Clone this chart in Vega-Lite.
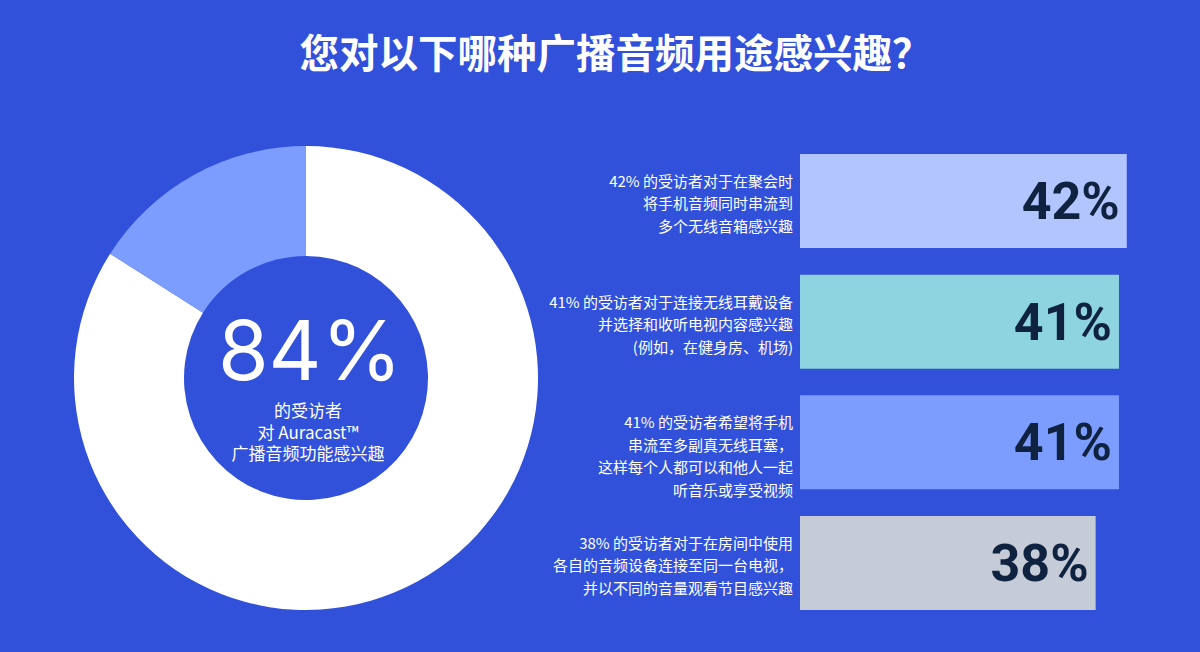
{
  "$schema": "https://vega.github.io/schema/vega-lite/v6.json",
  "background": "#3151DB",
  "padding": {"left": 74, "top": 35, "right": 11, "bottom": 42},
  "title": {
    "text": "您对以下哪种广播音频用途感兴趣？",
    "font": "Noto Sans CJK SC",
    "fontSize": 39.5,
    "fontWeight": "bold",
    "color": "white",
    "anchor": "middle",
    "offset": 70,
    "dx": -16
  },
  "spacing": 262,
  "bounds": "flush",
  "resolve": {"scale": {"color": "independent"}},
  "hconcat": [
    {
      "width": 464,
      "height": 464,
      "data": {
        "values": [
          {"group": "感兴趣", "share": 0.84, "rank": 1},
          {"group": "其他", "share": 0.16, "rank": 2}
        ]
      },
      "layer": [
        {
          "mark": {"type": "arc", "innerRadius": 122, "outerRadius": 232},
          "encoding": {
            "theta": {"field": "share", "type": "quantitative", "stack": true},
            "order": {"field": "rank", "type": "quantitative"},
            "color": {
              "field": "group",
              "type": "nominal",
              "scale": {"domain": ["感兴趣", "其他"], "range": ["#FFFFFF", "#7C9DFE"]},
              "legend": null
            }
          }
        },
        {
          "transform": [{"filter": "datum.rank == 1"}],
          "mark": {
            "type": "text",
            "font": "Inter",
            "fontSize": 82,
            "fontWeight": 400,
            "color": "white",
            "baseline": "middle",
            "dx": 4,
            "dy": -23
          },
          "encoding": {"text": {"field": "share", "type": "quantitative", "format": ".0%"}}
        },
        {
          "data": {"values": [{"caption": "的受访者\n对 Auracast™\n广播音频功能感兴趣"}]},
          "mark": {
            "type": "text",
            "font": "Noto Sans CJK SC",
            "fontSize": 17,
            "lineHeight": 21.5,
            "lineBreak": "\n",
            "color": "white",
            "baseline": "top",
            "dy": 26,
            "dx": 2
          },
          "encoding": {"text": {"field": "caption", "type": "nominal"}}
        }
      ]
    },
    {
      "width": 389,
      "height": 464,
      "data": {
        "values": [
          {"item": "a", "share": 0.42, "desc": "42% 的受访者对于在聚会时\n将手机音频同时串流到\n多个无线音箱感兴趣"},
          {"item": "b", "share": 0.41, "desc": "41% 的受访者对于连接无线耳戴设备\n并选择和收听电视内容感兴趣\n(例如，在健身房、机场)"},
          {"item": "c", "share": 0.41, "desc": "41% 的受访者希望将手机\n串流至多副真无线耳塞，\n这样每个人都可以和他人一起\n听音乐或享受视频"},
          {"item": "d", "share": 0.38, "desc": "38% 的受访者对于在房间中使用\n各自的音频设备连接至同一台电视，\n并以不同的音量观看节目感兴趣"}
        ]
      },
      "encoding": {
        "y": {
          "field": "item",
          "type": "nominal",
          "sort": null,
          "axis": null,
          "scale": {"paddingInner": 0.221, "paddingOuter": 0.033, "align": 1}
        }
      },
      "layer": [
        {
          "mark": {"type": "bar"},
          "encoding": {
            "x": {"field": "share", "type": "quantitative", "scale": {"domain": [0, 0.5]}, "axis": null},
            "color": {
              "field": "item",
              "type": "nominal",
              "scale": {"domain": ["a", "b", "c", "d"], "range": ["#B3C5FF", "#8ED3E0", "#7C9DFE", "#C6CBD8"]},
              "legend": null
            }
          }
        },
        {
          "mark": {
            "type": "text",
            "align": "right",
            "baseline": "middle",
            "dx": -7,
            "dy": 2,
            "font": "Roboto",
            "fontSize": 52,
            "fontWeight": "bold",
            "color": "#0F2340"
          },
          "encoding": {
            "x": {"field": "share", "type": "quantitative"},
            "text": {"field": "share", "type": "quantitative", "format": ".0%"}
          }
        },
        {
          "mark": {
            "type": "text",
            "align": "right",
            "baseline": "middle",
            "dx": -7,
            "dy": -19,
            "lineBreak": "\n",
            "lineHeight": 22.5,
            "font": "Noto Sans CJK SC",
            "fontSize": 15,
            "color": "white"
          },
          "encoding": {
            "x": {"datum": 0},
            "text": {"field": "desc", "type": "nominal"}
          }
        }
      ]
    }
  ],
  "config": {"view": {"stroke": null}}
}
